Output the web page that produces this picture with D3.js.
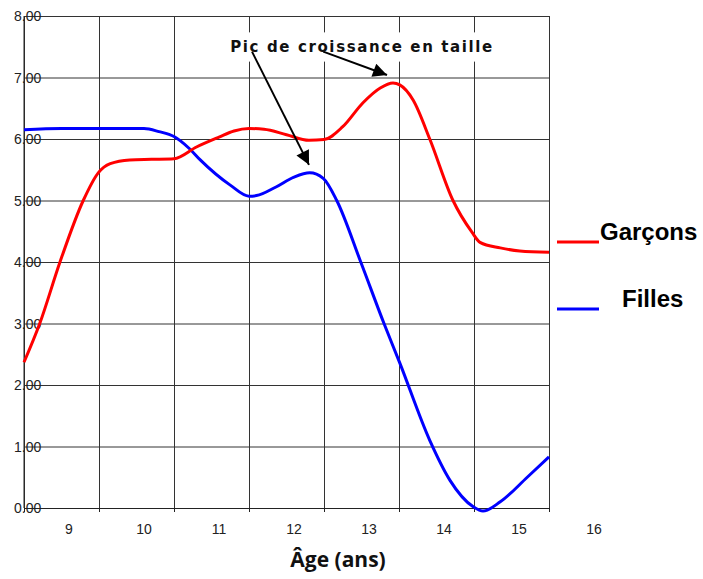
<!DOCTYPE html>
<html>
<head>
<meta charset="utf-8">
<script src="https://cdn.jsdelivr.net/npm/d3@7"></script>
<style>
body { margin: 0; background: #fff; }
svg { display: block; }
</style>
</head>
<body>
<svg width="703" height="579"></svg>
<script>
// ages (x) and values
var garconsAge = [8.4, 8.61, 8.88, 9.19, 9.39, 9.55, 9.81, 10.1, 10.4, 10.7, 11.0, 11.2, 11.4, 11.6, 11.9, 12.2, 12.4, 12.65, 12.92, 13.15, 13.32, 13.41, 13.59, 13.81, 14.12, 14.37, 14.48, 14.75, 15.01, 15.4];
var garconsVal = [2.37, 3.0, 4.0, 5.0, 5.45, 5.6, 5.66, 5.67, 5.68, 5.87, 6.03, 6.13, 6.17, 6.16, 6.07, 5.98, 5.99, 6.2, 6.59, 6.83, 6.91, 6.88, 6.63, 6.0, 5.0, 4.49, 4.32, 4.23, 4.18, 4.16];
var fillesAge = [8.4, 8.9, 9.5, 10.0, 10.2, 10.4, 10.6, 10.75, 11.15, 11.4, 11.5, 11.76, 12.0, 12.21, 12.39, 12.57, 12.89, 13.2, 13.41, 13.81, 14.08, 14.39, 14.52, 14.75, 15.11, 15.4];
var fillesVal = [6.15, 6.17, 6.17, 6.17, 6.12, 6.04, 5.85, 5.66, 5.25, 5.07, 5.08, 5.22, 5.38, 5.45, 5.36, 5.0, 4.0, 3.0, 2.36, 1.1, 0.45, 0.02, -0.05, 0.1, 0.5, 0.83];

var gridAges = [8.4, 9.4, 10.4, 11.4, 12.4, 13.4, 14.4, 15.4];
var ageLabels = [9, 10, 11, 12, 13, 14, 15, 16];
var yTicks = [0, 1, 2, 3, 4, 5, 6, 7, 8];

var svg = d3.select('svg');
var margin = { top: 16, right: 154, bottom: 71, left: 24 };
var width = +svg.attr('width') - margin.left - margin.right;
var height = +svg.attr('height') - margin.top - margin.bottom;
var g = svg.append('g').attr('transform', `translate(${margin.left}, ${margin.top})`);

var x = d3.scaleLinear().domain([8.4, 15.4]).range([0, width]);
var y = d3.scaleLinear().domain([0, 8]).range([height, 0]);

// horizontal grid + y labels
var yAxis = d3.axisLeft(y).tickValues(yTicks).tickSize(-width).tickFormat(d3.format('.2f'));
g.append('g').call(function (a) {
	a.call(yAxis);
	a.select('.domain').remove();
	a.selectAll('.tick line').attr('stroke', '#333');
	a.selectAll('.tick text')
		.attr('x', -10).attr('dy', '0.35em')
		.attr('text-anchor', 'start')
		.style('font-family', 'Liberation Sans, Arial, sans-serif')
		.style('font-size', '14px')
		.attr('fill', '#222');
});

// vertical grid
g.append('g').call(function (a) {
	a.call(d3.axisBottom(x).tickValues(gridAges).tickSize(-height).tickFormat(''));
	a.attr('transform', `translate(0,${height})`);
	a.select('.domain').remove();
	a.selectAll('.tick line').attr('stroke', '#333');
});

// bottom axis with small ticks
g.append('g')
	.attr('transform', `translate(0,${height})`)
	.call(function (a) {
		a.call(d3.axisBottom(x).tickValues(gridAges).tickSize(4).tickFormat(''));
		a.select('.domain').attr('stroke', '#222');
		a.selectAll('.tick line').attr('stroke', '#222');
	});

// left axis line
g.append('line').attr('x1', 0).attr('x2', 0).attr('y1', 0).attr('y2', height).attr('stroke', '#222');

// age labels (sit between grid lines)
g.append('g').selectAll('text').data(ageLabels).join('text')
	.attr('x', function (d) { return x(d); })
	.attr('y', height + 26)
	.attr('text-anchor', 'middle')
	.style('font-family', 'Liberation Sans, Arial, sans-serif')
	.style('font-size', '14px')
	.attr('fill', '#222')
	.text(function (d) { return d; });

var line = d3.line()
	.x(function (d) { return x(d[0]); })
	.y(function (d) { return y(d[1]); })
	.curve(d3.curveMonotoneX);

var filles = fillesAge.map(function (a, i) { return [a, fillesVal[i]]; });
var garcons = garconsAge.map(function (a, i) { return [a, garconsVal[i]]; });

g.append('path').datum(filles).attr('d', line)
	.attr('fill', 'none').attr('stroke', '#0000ff').attr('stroke-width', 3);
g.append('path').datum(garcons).attr('d', line)
	.attr('fill', 'none').attr('stroke', '#ff0000').attr('stroke-width', 3);

// annotation
svg.append('defs').append('marker')
	.attr('id', 'head')
	.attr('viewBox', '0 0 10 10')
	.attr('refX', 10).attr('refY', 5)
	.attr('markerWidth', 8).attr('markerHeight', 7)
	.attr('markerUnits', 'strokeWidth')
	.attr('orient', 'auto')
	.append('path').attr('d', 'M0,0L10,5L0,10Z').attr('fill', '#000');

var note = g.append('g');
note.append('rect')
	.attr('x', x(11.05)).attr('y', y(7.73))
	.attr('width', 281).attr('height', 29)
	.attr('fill', '#fff');
[[11.44, 12.2, 5.58], [12.39, 13.24, 7.04]].forEach(function (p) {
	note.append('line')
		.attr('x1', x(p[0])).attr('y1', y(7.42))
		.attr('x2', x(p[1])).attr('y2', y(p[2]))
		.attr('stroke', '#000').attr('stroke-width', 2)
		.attr('marker-end', 'url(#head)');
});
note.append('rect')
	.attr('x', x(11.05)).attr('y', y(7.73))
	.attr('width', 281).attr('height', 16)
	.attr('fill', '#fff');
note.append('text')
	.attr('x', x(11.15)).attr('y', y(7.42))
	.attr('textLength', 262)
	.style('font-family', 'DejaVu Sans, sans-serif')
	.style('font-weight', 'bold')
	.style('font-size', '15px')
	.attr('fill', '#111')
	.text('Pic de croissance en taille');

// legend
var legend = svg.append('g');
[['Garçons', '#ff0000', 242, 600], ['Filles', '#0000ff', 309, 622]].forEach(function (d) {
	legend.append('line')
		.attr('x1', 557).attr('x2', 599).attr('y1', d[2]).attr('y2', d[2])
		.attr('stroke', d[1]).attr('stroke-width', 3);
	legend.append('text')
		.attr('x', d[3]).attr('y', d[2] - 2)
		.style('font-family', 'Liberation Sans, Arial, sans-serif')
		.style('font-weight', 'bold')
		.style('font-size', '24px')
		.text(d[0]);
});

// axis title
svg.append('text')
	.attr('x', 338).attr('y', 567)
	.attr('text-anchor', 'middle')
	.style('font-family', 'Open Sans, sans-serif')
	.style('font-weight', 'bold')
	.style('font-size', '21px')
	.attr('fill', '#111')
	.text('Âge (ans)');
</script>
</body>
</html>
